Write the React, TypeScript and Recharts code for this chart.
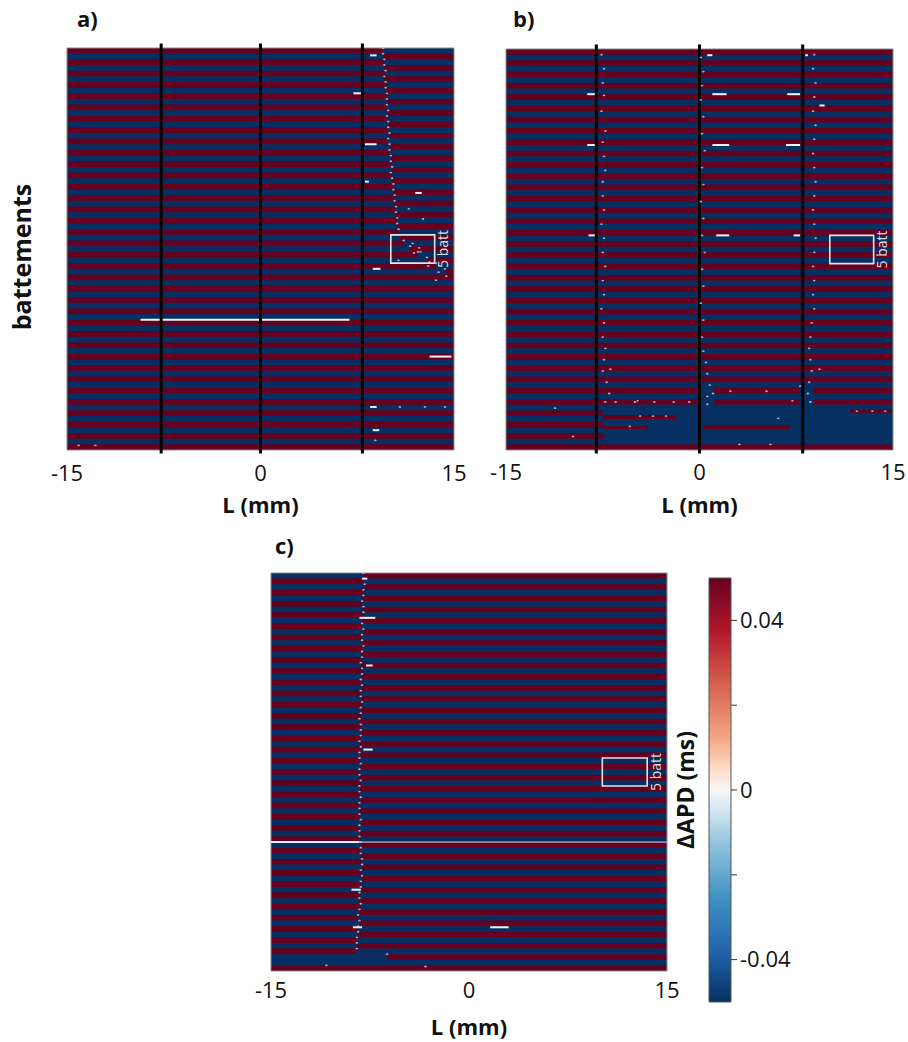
import React from 'react';
import { ComposedChart, XAxis, YAxis, ReferenceArea, ReferenceLine, Scatter } from 'recharts';

const FONT = "'Open Sans', 'DejaVu Sans', sans-serif";
const BEATS = 71;

// ΔAPD (ms) of each beat, top to bottom, away from the nodal lines (saturated scale)
const beatDeltaApd: number[] = [
  0.05, -0.05, 0.05, -0.05, 0.05, -0.05, 0.05, -0.05, 0.05, -0.05,
  0.05, -0.05, 0.05, -0.05, 0.05, -0.05, 0.05, -0.05, 0.05, -0.05,
  0.05, -0.05, 0.05, -0.05, 0.05, -0.05, 0.05, -0.05, 0.05, -0.05,
  0.05, -0.05, 0.05, -0.05, 0.05, -0.05, 0.05, -0.05, 0.05, -0.05,
  0.05, -0.05, 0.05, -0.05, 0.05, -0.05, 0.05, -0.05, 0.05, -0.05,
  0.05, -0.05, 0.05, -0.05, 0.05, -0.05, 0.05, -0.05, 0.05, -0.05,
  0.05, -0.05, 0.05, -0.05, 0.05, -0.05, 0.05, -0.05, 0.05, -0.05,
  0.05,
];

const xTicks = [-15, 0, 15];
const cbTicks = [-0.04, -0.02, 0, 0.02, 0.04];
const cbTickLabels = ['-0.04', '', '0', '', '0.04'];
const cbRange = [-0.05, 0.05];

// RdBu colour scale (ΔAPD in ms -> colour)
const rdbuStops: [number, string][] = [
  [-0.05, '#053061'], [-0.0375, '#2166ac'], [-0.025, '#4393c3'], [-0.0125, '#92c5de'],
  [-0.005, '#d1e5f0'], [0, '#f7f7f7'], [0.005, '#fddbc7'], [0.0125, '#f4a582'],
  [0.025, '#d6604d'], [0.0375, '#b2182b'], [0.05, '#67001f'],
];

// "5 batt" scale box: [L from, L to, beat from, beat to]
const scaleBox = [10.1, 13.5, 33, 38];

// ---- panel a ----
const wallsA = [-7.7, 0, 7.9];
// [beat, L from, L to] : phase-reversed part of the beat
const flipA: [number, number, number][] = [
  [0, 9.5, 15], [1, 9.5, 15], [2, 9.6, 15], [3, 9.6, 15], [4, 9.7, 15], [5, 9.6, 15],
  [6, 9.7, 15], [7, 9.7, 15], [8, 9.8, 15], [9, 9.8, 15], [10, 9.8, 15], [11, 9.9, 15],
  [12, 9.8, 15], [13, 9.9, 15], [14, 9.9, 15], [15, 10.0, 15], [16, 9.9, 15], [17, 10.0, 15],
  [18, 10.0, 15], [19, 10.1, 15], [20, 10.1, 15], [21, 10.2, 15], [22, 10.1, 15], [23, 10.2, 15],
  [24, 10.3, 15], [25, 10.3, 15], [26, 10.4, 15], [27, 10.4, 15], [28, 10.5, 15], [29, 10.5, 15],
  [30, 10.6, 15], [31, 10.6, 15], [32, 10.7, 15], [33, 10.8, 15], [34, 11.1, 15], [35, 11.6, 15],
  [36, 12.2, 15], [37, 12.9, 15], [38, 13.6, 15], [39, 14.3, 15],
];
const patchesA: [number, number, number, number, number][] = [];
// [beat, L from, L to]
const streaksA: [number, number, number][] = [
  [48, -9.3, 6.9], [54.5, 13.1, 14.8], [8, 7.2, 7.9], [17, 8.1, 9.0], [1.3, 8.5, 9.0],
  [25.6, 12.0, 12.5], [39, 8.7, 9.3], [63.4, 8.5, 9.0], [67.5, 8.7, 9.2], [23.6, 8.1, 8.4],
];
const faintA: [number, number, number][] = [];
// [L, beat]
const dotsA: [number, number][] = [
  [10.8, 63.4], [12.75, 63.4], [14.3, 63.4], [-14.1, 70.2], [-12.8, 70.2], [8.9, 69.3],
  [11.8, 34.5], [12.3, 35.3], [11.9, 36.2], [12.4, 36.0], [10.7, 37.5], [13.1, 37.8],
  [13.0, 38.5], [13.8, 39.6], [14.4, 40.3], [13.6, 41.0], [12.6, 30.2], [11.5, 28.4],
];

// ---- panel b ----
const wallsB = [-8, 0, 8];
const flipB: [number, number, number][] = [];
// [beat from, beat to, L from, L to, ΔAPD]
const patchesB: [number, number, number, number, number][] = [
  [63, 70, -7.5, 0.2, -0.05], [64.8, 65.5, -7.5, -1.8, 0.05], [66.8, 67.3, -7.5, -4.0, 0.05],
  [60, 63, 0.2, 1.1, -0.05], [60, 63, 7.8, 8.8, -0.05], [63, 70, 0.2, 8.8, -0.05],
  [66.6, 67.3, 0.3, 7.0, 0.05],
  [63, 70, 8.0, 15, -0.05], [63.8, 64.4, 11.7, 14.9, 0.05],
];
const streaksB: [number, number, number][] = [
  [8, -8.7, -8.1], [8, 1.0, 2.1], [8, 6.8, 7.8],
  [17, -8.7, -8.1], [17, 1.0, 2.3], [17, 6.7, 7.8],
  [33, -8.6, -8.1], [33, 1.3, 2.3], [33, 7.3, 7.8],
  [10, 9.3, 9.7], [1.1, 0.6, 1.0], [1.1, 8.2, 8.4],
];
const faintB: [number, number, number][] = [];
const dotsB: [number, number][] = [
  // nodal line near L = -7.5
  [-7.6, 1], [-7.4, 3.5], [-7.5, 6], [-7.4, 8.2], [-7.6, 11], [-7.3, 14.5], [-7.5, 16.5],
  [-7.4, 19], [-7.3, 21.5], [-7.5, 23.5], [-7.5, 26], [-7.4, 28.5], [-7.6, 31], [-7.4, 33.5],
  [-7.5, 36], [-7.3, 38.5], [-7.5, 41], [-7.4, 43.5], [-7.6, 46], [-7.4, 48.5], [-7.5, 51],
  [-7.3, 53], [-7.4, 55], [-7.5, 57], [-7.2, 59], [-7.0, 61], [-7.3, 62.5],
  // nodal line near L = 0.2
  [0.1, 1.5], [0.3, 4], [0.2, 6.5], [0.1, 9], [0.3, 12], [0.2, 15], [0.4, 18], [0.2, 21],
  [0.3, 24], [0.1, 27], [0.3, 30], [0.2, 33], [0.4, 36], [0.2, 39], [0.3, 42], [0.1, 45],
  [0.3, 48], [0.2, 51], [0.3, 53.5], [0.5, 55.5], [0.6, 57.5], [0.8, 59.5], [0.6, 61.5],
  // nodal line near L = 8.9
  [8.9, 1], [8.8, 3.5], [9.0, 6], [8.9, 8.5], [8.8, 11], [9.0, 13.5], [8.9, 16], [8.8, 18.5],
  [8.9, 21], [9.0, 23.5], [8.9, 26], [8.8, 28.5], [8.9, 31], [9.0, 33.5], [8.9, 36],
  [8.8, 38.5], [8.9, 41], [8.8, 43.5], [8.9, 46], [8.7, 48.5], [8.6, 51], [8.5, 53],
  [8.6, 55], [8.7, 57], [8.5, 59], [8.4, 61], [8.6, 62.5],
  // lower disordered area
  [-6.9, 56.7], [-4.8, 62.3], [-4.6, 65], [-3.6, 65], [-2.6, 65], [2.4, 60.6], [5.2, 60.6],
  [7.2, 62.3], [9.3, 56.7], [-11.2, 63.6], [-9.8, 68.6], [1.05, 61], [7.8, 59.7],
  [-6.5, 62.5], [-5.0, 62.5], [-3.5, 62.5], [-2.0, 62.5], [-0.8, 62.5], [0.6, 62.9],
  [6.1, 65.4], [12.2, 64.1], [13.4, 64.1], [14.4, 64.1], [3.1, 70], [5.5, 70], [-5.4, 66.8],
];

// ---- panel c ----
const wallsC: number[] = [];
const flipC: [number, number, number][] = [
  [0, -15, -8.0], [1, -15, -8.0], [2, -15, -7.9], [3, -15, -8.0], [4, -15, -8.0], [5, -15, -8.1],
  [6, -15, -8.0], [7, -15, -8.0], [8, -15, -8.1], [9, -15, -8.1], [10, -15, -8.0], [11, -15, -8.1],
  [12, -15, -8.1], [13, -15, -8.0], [14, -15, -8.1], [15, -15, -8.1], [16, -15, -8.2], [17, -15, -8.1],
  [18, -15, -8.1], [19, -15, -8.2], [20, -15, -8.1], [21, -15, -8.2], [22, -15, -8.2], [23, -15, -8.1],
  [24, -15, -8.2], [25, -15, -8.2], [26, -15, -8.3], [27, -15, -8.2], [28, -15, -8.2], [29, -15, -8.2],
  [30, -15, -8.3], [31, -15, -8.2], [32, -15, -8.3], [33, -15, -8.3], [34, -15, -8.2], [35, -15, -8.3],
  [36, -15, -8.3], [37, -15, -8.2], [38, -15, -8.3], [39, -15, -8.3], [40, -15, -8.2], [41, -15, -8.3],
  [42, -15, -8.3], [43, -15, -8.3], [44, -15, -8.2], [45, -15, -8.3], [46, -15, -8.3], [47, -15, -8.3],
  [48, -15, -8.2], [49, -15, -8.2], [50, -15, -8.2], [51, -15, -8.1], [52, -15, -8.1], [53, -15, -8.2],
  [54, -15, -8.1], [55, -15, -8.2], [56, -15, -8.2], [57, -15, -8.3], [58, -15, -8.3], [59, -15, -8.2],
  [60, -15, -8.3], [61, -15, -8.4], [62, -15, -8.3], [63, -15, -8.4], [64, -15, -8.4], [65, -15, -8.5],
  [66, -15, -8.5], [67, -15, -8.5], [68, -15, -6.2],
];
const patchesC: [number, number, number, number, number][] = [];
const streaksC: [number, number, number][] = [
  [48, -15, -8.3], [1, -8.1, -7.7], [8, -8.3, -7.1], [16.5, -7.8, -7.3], [31.5, -8.0, -7.3],
  [56.5, -8.9, -8.2], [63.2, 1.6, 3.0], [63.2, -8.8, -8.1],
];
const faintC: [number, number, number][] = [[48, -8.3, 15]];
const dotsC: [number, number][] = [[-10.8, 70], [-3.3, 70.2]];

// ---------------------------------------------------------------------------

const hexToRgb = (h: string) => [1, 3, 5].map((i) => parseInt(h.slice(i, i + 2), 16));

function apdColor(v: number): string {
  if (v <= rdbuStops[0][0]) return rdbuStops[0][1];
  for (let i = 1; i < rdbuStops.length; i++) {
    const [v1, c1] = rdbuStops[i];
    if (v <= v1) {
      const [v0, c0] = rdbuStops[i - 1];
      const t = (v - v0) / (v1 - v0);
      const a = hexToRgb(c0);
      const b = hexToRgb(c1);
      const m = a.map((x, k) => Math.round(x + (b[k] - x) * t));
      return `rgb(${m[0]},${m[1]},${m[2]})`;
    }
  }
  return rdbuStops[rdbuStops.length - 1][1];
}

const BoxLabel = (props: any) => {
  const vb = props.viewBox;
  if (!vb) return null;
  const x = vb.x + vb.width + 8;
  const y = vb.y + vb.height / 2;
  return (
    <text x={x} y={y} transform={`rotate(-90 ${x} ${y})`} textAnchor="middle" dominantBaseline="central"
      fontSize={14} fill="#dcdcdc" fontFamily={FONT}>5 batt</text>
  );
};

const NodalDot = (p: any) => <ellipse cx={p.cx} cy={p.cy} rx={1.3} ry={0.9} fill="#c9d3de" fillOpacity={0.8} />;
const NoMark = () => <g />;

interface PanelProps {
  left: number; top: number; width: number; height: number;
  plot: { l: number; t: number; r: number; b: number };
  tickMargin: number; labelOffset: number;
  walls: number[];
  flips: [number, number, number][];
  patches: [number, number, number, number, number][];
  streaks: [number, number, number][];
  faint: [number, number, number][];
  dots: [number, number][];
  nodalSide: 'from' | 'to' | null;
}

function StripePanel(p: PanelProps) {
  const margin = { top: p.plot.t - p.top, left: p.plot.l - p.left, right: p.left + p.width - p.plot.r, bottom: 0 };
  const xAxisHeight = p.top + p.height - p.plot.b;
  const nodal = p.nodalSide
    ? p.flips.map(([b, f, t]) => ({ x: p.nodalSide === 'from' ? f : t, y: b }))
    : [];
  const extra = p.dots.map(([x, y]) => ({ x, y }));
  return (
    <div style={{ position: 'absolute', left: p.left, top: p.top }}>
      <ComposedChart width={p.width} height={p.height} margin={margin}>
        <XAxis type="number" dataKey="x" domain={[-15, 15]} ticks={xTicks} interval={0} allowDataOverflow
          height={xAxisHeight} axisLine={false} tickLine={false} tickMargin={p.tickMargin}
          tick={{ fontSize: 22, fill: '#111', fontFamily: FONT }}
          label={{ value: 'L (mm)', position: 'insideBottom', offset: p.labelOffset, fontSize: 22,
            fontWeight: 700, fill: '#111', fontFamily: FONT }} />
        <YAxis type="number" dataKey="y" domain={[0, BEATS]} reversed hide allowDataOverflow />
        <ReferenceArea x1={-15} x2={15} y1={0} y2={BEATS} fill={apdColor(-0.05)} fillOpacity={1} stroke="none" />
        {beatDeltaApd.map((v, i) => (v > 0 ? (
          <ReferenceArea key={`r${i}`} x1={-15} x2={15} y1={i} y2={i + 1} fill={apdColor(v)} fillOpacity={1} stroke="none" />
        ) : null))}
        {p.flips.map(([b, f, t], i) => (
          <ReferenceArea key={`f${i}`} x1={f} x2={t} y1={b} y2={b + 1} fill={apdColor(-beatDeltaApd[b])} fillOpacity={1} stroke="none" />
        ))}
        {p.patches.map(([b1, b2, f, t, v], i) => (
          <ReferenceArea key={`p${i}`} x1={f} x2={t} y1={b1} y2={b2} fill={apdColor(v)} fillOpacity={1} stroke="none" />
        ))}
        <ReferenceArea x1={scaleBox[0]} x2={scaleBox[1]} y1={scaleBox[2]} y2={scaleBox[3]} fill="none"
          stroke="#e4e4e4" strokeWidth={1.6} label={(lp: any) => <BoxLabel {...lp} />} />
        <ReferenceArea x1={-15} x2={15} y1={0} y2={BEATS} fill="none" stroke="#8a8a8a" strokeWidth={1} />
        {p.faint.map(([b, f, t], i) => (
          <ReferenceLine key={`s0${i}`} segment={[{ x: f, y: b }, { x: t, y: b }]} stroke="#d7e0ea" strokeWidth={1} />
        ))}
        {p.streaks.map(([b, f, t], i) => (
          <ReferenceLine key={`s${i}`} segment={[{ x: f, y: b }, { x: t, y: b }]} stroke="#eef2f6" strokeWidth={2} />
        ))}
        <Scatter data={nodal} shape={NodalDot} isAnimationActive={false} />
        <Scatter data={extra} shape={NodalDot} isAnimationActive={false} />
        {p.walls.map((w, i) => (
          <ReferenceLine key={`w${i}`} segment={[{ x: w, y: -0.8 }, { x: w, y: BEATS + 0.6 }]} stroke="#000"
            strokeWidth={3} ifOverflow="visible" />
        ))}
      </ComposedChart>
    </div>
  );
}

function ColorBar() {
  const anchors = [{ x: 0, y: cbRange[0] }, { x: 1, y: cbRange[1] }];
  return (
    <div style={{ position: 'absolute', left: 680, top: 560 }}>
      <ComposedChart width={200} height={470} margin={{ top: 18, left: 29, right: 69, bottom: 28 }}>
        <defs>
          <linearGradient id="rdbu" x1="0" y1="1" x2="0" y2="0">
            {rdbuStops.map(([v, c], i) => (
              <stop key={i} offset={`${((v - cbRange[0]) / (cbRange[1] - cbRange[0])) * 100}%`} stopColor={c} />
            ))}
          </linearGradient>
        </defs>
        <XAxis type="number" dataKey="x" domain={[0, 1]} hide />
        <YAxis type="number" dataKey="y" orientation="right" domain={cbRange} ticks={cbTicks} interval={0}
          width={80} axisLine={false} tickSize={6} tickMargin={3} tickLine={{ stroke: '#333' }}
          tickFormatter={(_v: number, i: number) => cbTickLabels[i]}
          tick={{ fontSize: 22, fill: '#111', fontFamily: FONT }} />
        <Scatter data={anchors} shape={NoMark} isAnimationActive={false} />
        <ReferenceArea x1={0} x2={1} y1={cbRange[0]} y2={cbRange[1]} fill="url(#rdbu)" fillOpacity={1} stroke="#555" strokeWidth={1} />
      </ComposedChart>
    </div>
  );
}

export default function App() {
  return (
    <div style={{ position: 'absolute', left: 0, top: 0, width: 908, height: 1042, overflow: 'hidden', background: '#fff', fontFamily: FONT }}>
      <StripePanel left={0} top={0} width={470} height={530} plot={{ l: 67, t: 48, r: 454, b: 450 }}
        tickMargin={9} labelOffset={17} walls={wallsA} flips={flipA} patches={patchesA}
        streaks={streaksA} faint={faintA} dots={dotsA} nodalSide="from" />
      <StripePanel left={440} top={0} width={468} height={530} plot={{ l: 506, t: 49, r: 893, b: 450 }}
        tickMargin={8} labelOffset={17} walls={wallsB} flips={flipB} patches={patchesB}
        streaks={streaksB} faint={faintB} dots={dotsB} nodalSide={null} />
      <StripePanel left={200} top={530} width={480} height={512} plot={{ l: 271, t: 573, r: 667, b: 971 }}
        tickMargin={5} labelOffset={7} walls={wallsC} flips={flipC} patches={patchesC}
        streaks={streaksC} faint={faintC} dots={dotsC} nodalSide="to" />
      <ColorBar />
      <svg width={908} height={1042} style={{ position: 'absolute', left: 0, top: 0, pointerEvents: 'none' }}>
        <g fontFamily={FONT} fontWeight={700} fill="#111">
          <text x={77} y={27} fontSize={22}>a)</text>
          <text x={513} y={27} fontSize={22}>b)</text>
          <text x={275} y={554} fontSize={22}>c)</text>
          <text x={0} y={0} fontSize={25} textAnchor="middle" transform="translate(31 257) rotate(-90)">battements</text>
          <text x={0} y={0} fontSize={23} textAnchor="middle" transform="translate(694 790) rotate(-90)">ΔAPD (ms)</text>
        </g>
      </svg>
    </div>
  );
}
